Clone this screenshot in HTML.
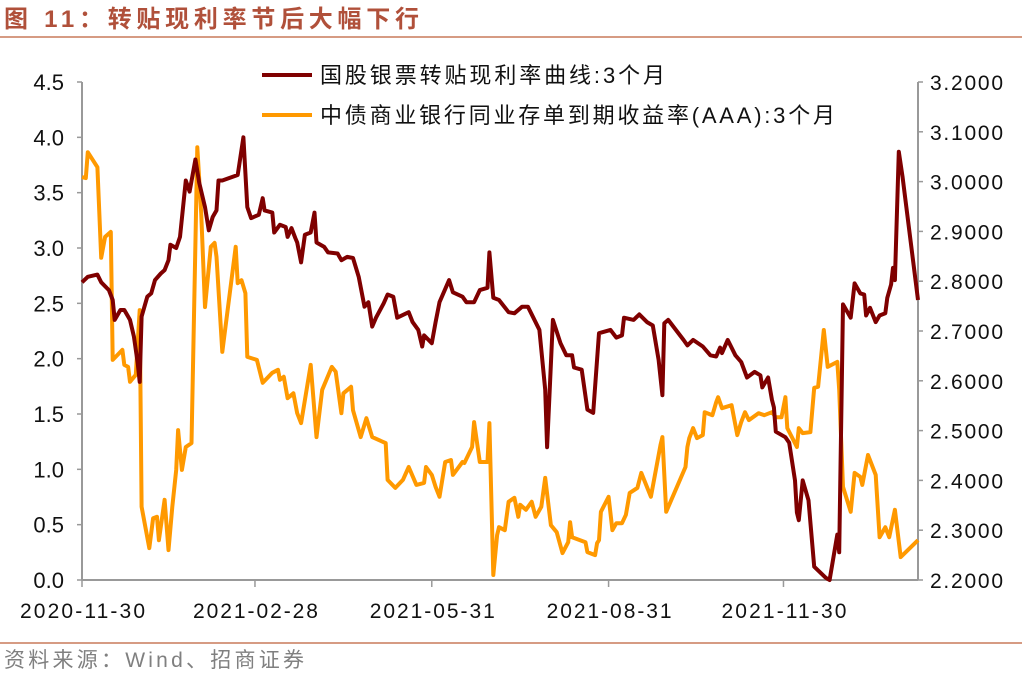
<!DOCTYPE html>
<html><head><meta charset="utf-8"><style>
body{margin:0;background:#fff;width:1022px;height:673px;overflow:hidden;font-family:"Liberation Sans","Noto Sans CJK SC",sans-serif}
svg text{font-family:"Liberation Sans","Noto Sans CJK SC",sans-serif}
</style></head><body>
<svg id="c" width="1022" height="673">
<text x="4" y="27" font-size="24" font-weight="bold" fill="#b0503a" textLength="415" lengthAdjust="spacing">图 11：转贴现利率节后大幅下行</text>
<line x1="0" y1="37" x2="1022" y2="37" stroke="#c87a5a" stroke-width="1.5"/>
<line x1="0" y1="643" x2="1022" y2="643" stroke="#c87a5a" stroke-width="1.5"/>
<text x="4" y="667" font-size="21" fill="#808080" textLength="300" lengthAdjust="spacing">资料来源：Wind、招商证券</text>
<g id="axes"></g>
<g id="series"></g>
<g>
<line x1="262" y1="75" x2="312" y2="75" stroke="#7f0000" stroke-width="4"/>
<text x="320" y="83" font-size="22" fill="#111" textLength="345" lengthAdjust="spacing">国股银票转贴现利率曲线:3个月</text>
<line x1="262" y1="115" x2="312" y2="115" stroke="#ff9900" stroke-width="4"/>
<text x="320" y="123" font-size="22" fill="#111" textLength="515" lengthAdjust="spacing">中债商业银行同业存单到期收益率(AAA):3个月</text>
</g>
</svg>
<script>
const redDays=[0,3,8,10,14,16,17,20,22,25,27,29,30,31,34,36,38,41,43,45,46,49,51,54,56,59,61,64,66,68,70,71,73,81,84,86,88,92,94,95,99,100,103,106,107,109,111,112,114,116,119,121,122,126,128,133,135,138,141,144,147,149,151,153,157,159,162,164,170,172,175,177,178,182,184,186,191,193,198,200,204,207,211,212,214,217,222,225,229,232,238,241,242,245,249,252,255,256,260,263,266,269,275,278,281,282,287,290,294,297,300,302,303,305,313,315,318,323,327,330,332,333,336,340,343,346,350,353,354,357,359,360,361,366,368,371,372,373,375,378,381,387,389,393,394,396,400,402,405,407,408,410,413,415,418,419,421,422,423,425,427,435];
const redVals=[2.69,2.74,2.76,2.69,2.62,2.53,2.35,2.44,2.44,2.35,2.20,1.96,1.79,2.38,2.56,2.59,2.71,2.77,2.80,2.89,3.03,3.00,3.10,3.61,3.51,3.80,3.59,3.37,3.16,3.28,3.34,3.61,3.61,3.66,4.00,3.37,3.27,3.30,3.45,3.34,3.32,3.14,3.21,3.19,3.10,3.18,3.09,3.05,2.87,3.12,3.14,3.32,3.05,3.01,2.96,2.95,2.89,2.92,2.91,2.74,2.47,2.51,2.29,2.37,2.50,2.58,2.56,2.37,2.42,2.33,2.26,2.11,2.21,2.14,2.33,2.51,2.71,2.60,2.56,2.51,2.51,2.62,2.64,2.96,2.55,2.53,2.42,2.41,2.47,2.47,2.26,1.72,1.20,2.35,2.14,2.03,2.03,1.92,1.90,1.54,1.51,2.23,2.26,2.19,2.21,2.37,2.35,2.40,2.33,2.30,1.99,1.67,2.32,2.35,2.17,2.12,2.17,2.11,2.03,2.02,2.10,2.05,2.17,2.03,1.97,1.83,1.88,1.85,1.74,1.83,1.63,1.56,1.34,1.29,1.24,0.90,0.61,0.54,0.90,0.72,0.12,0.02,0.00,0.41,0.25,2.49,2.37,2.68,2.59,2.58,2.39,2.46,2.33,2.39,2.41,2.55,2.67,2.82,2.71,3.87,3.64,2.53];
const orgDays=[0,2,3,8,10,12,15,16,21,22,24,25,28,30,31,35,37,39,40,43,45,47,49,50,52,54,57,60,62,64,67,69,70,73,80,81,83,85,86,91,94,99,102,103,105,107,110,112,114,119,122,125,130,132,135,136,140,141,145,148,151,158,159,163,167,170,174,178,179,182,184,186,189,192,193,198,199,203,204,207,211,212,214,216,217,220,222,225,227,228,231,234,236,239,241,244,247,250,253,254,255,262,263,267,268,269,270,274,276,278,281,283,285,289,291,296,301,302,304,314,315,316,318,320,323,324,328,330,331,333,338,341,343,345,347,352,355,359,361,364,366,367,372,373,375,379,381,383,386,388,393,394,396,400,402,405,406,409,413,415,418,420,423,426,435];
const orgVals=[3.009,3.007,3.059,3.029,2.847,2.889,2.899,2.642,2.662,2.632,2.628,2.598,2.612,2.742,2.347,2.264,2.324,2.327,2.280,2.361,2.260,2.347,2.421,2.501,2.421,2.467,2.475,3.069,2.937,2.748,2.869,2.877,2.849,2.658,2.869,2.796,2.802,2.776,2.648,2.642,2.596,2.616,2.622,2.602,2.608,2.565,2.575,2.535,2.515,2.632,2.487,2.582,2.628,2.618,2.535,2.575,2.588,2.541,2.487,2.525,2.487,2.475,2.401,2.385,2.401,2.427,2.391,2.395,2.427,2.411,2.387,2.367,2.437,2.441,2.411,2.437,2.435,2.467,2.517,2.437,2.437,2.515,2.210,2.290,2.306,2.300,2.357,2.365,2.327,2.351,2.341,2.357,2.327,2.347,2.405,2.310,2.296,2.254,2.276,2.316,2.286,2.276,2.256,2.250,2.274,2.280,2.337,2.367,2.300,2.314,2.314,2.331,2.375,2.385,2.415,2.367,2.471,2.487,2.337,2.427,2.467,2.485,2.505,2.485,2.491,2.537,2.531,2.557,2.567,2.545,2.551,2.491,2.517,2.537,2.521,2.535,2.531,2.537,2.527,2.527,2.567,2.505,2.467,2.505,2.495,2.497,2.586,2.588,2.702,2.628,2.638,2.582,2.387,2.337,2.415,2.407,2.391,2.451,2.411,2.286,2.306,2.286,2.341,2.246,2.280];
const leftTicks=[0,0.5,1,1.5,2,2.5,3,3.5,4,4.5];
const leftLabels=["0.0","0.5","1.0","1.5","2.0","2.5","3.0","3.5","4.0","4.5"];
const rightTicks=[2.2,2.3,2.4,2.5,2.6,2.7,2.8,2.9,3.0,3.1,3.2];
const rightLabels=["2.2000","2.3000","2.4000","2.5000","2.6000","2.7000","2.8000","2.9000","3.0000","3.1000","3.2000"];
const xTickDays=[0,90,182,274,365];
const xLabels=["2020-11-30","2021-02-28","2021-05-31","2021-08-31","2021-11-30"];

const X0=82,X1=918,Y0=580,Y1=82,DMAX=435;
const xs=d=>X0+d/DMAX*(X1-X0);
const yl=v=>Y0-v/4.5*(Y0-Y1);
const yr=v=>Y0-(v-2.2)/1.0*(Y0-Y1);
const NS="http://www.w3.org/2000/svg";
const ax=document.getElementById('axes'),se=document.getElementById('series');
function mk(tag,attrs,parent){const e=document.createElementNS(NS,tag);for(const k in attrs)e.setAttribute(k,attrs[k]);parent.appendChild(e);return e;}
const g='#999';
let e;
e=mk('line',{x1:X0,y1:Y1,x2:X0,y2:Y0,stroke:g,'stroke-width':2},ax);


e=mk('line',{x1:X1,y1:Y1,x2:X1,y2:Y0,stroke:g,'stroke-width':2},ax);


e=mk('line',{x1:X0,y1:Y0,x2:X1,y2:Y0,stroke:g,'stroke-width':2},ax);


leftTicks.forEach((v,i)=>{
  mk('line',{x1:X0-5,y1:yl(v),x2:X0,y2:yl(v),stroke:g,'stroke-width':1.5},ax);
  const t=mk('text',{x:X0-18,y:yl(v)+8,'font-size':22,'text-anchor':'end',fill:'#111'},ax);
  t.textContent=leftLabels[i];
  
  
});
rightTicks.forEach((v,i)=>{
  mk('line',{x1:X1,y1:yr(v),x2:X1+5,y2:yr(v),stroke:g,'stroke-width':1.5},ax);
  const t=mk('text',{x:X1+12,y:yr(v)+8,'font-size':21,fill:'#111',textLength:73,lengthAdjust:'spacing'},ax);
  t.textContent=rightLabels[i];
  
  
});
xTickDays.forEach((d,i)=>{
  mk('line',{x1:xs(d),y1:Y0,x2:xs(d),y2:Y0+7,stroke:g,'stroke-width':1.5},ax);
  const t=mk('text',{x:xs(d)-62,y:Y0+38,'font-size':21,fill:'#111',textLength:125,lengthAdjust:'spacing'},ax);
  t.textContent=xLabels[i];
  
  
});
const po=orgDays.map((d,i)=>xs(d).toFixed(1)+','+yr(orgVals[i]).toFixed(1)).join(' ');
e=mk('polyline',{points:po,fill:'none',stroke:'#ff9900','stroke-width':4,'stroke-linejoin':'round'},se);


const pr=redDays.map((d,i)=>xs(d).toFixed(1)+','+yl(redVals[i]).toFixed(1)).join(' ');
e=mk('polyline',{points:pr,fill:'none',stroke:'#7f0000','stroke-width':4,'stroke-linejoin':'round'},se);


</script>
</body></html>
